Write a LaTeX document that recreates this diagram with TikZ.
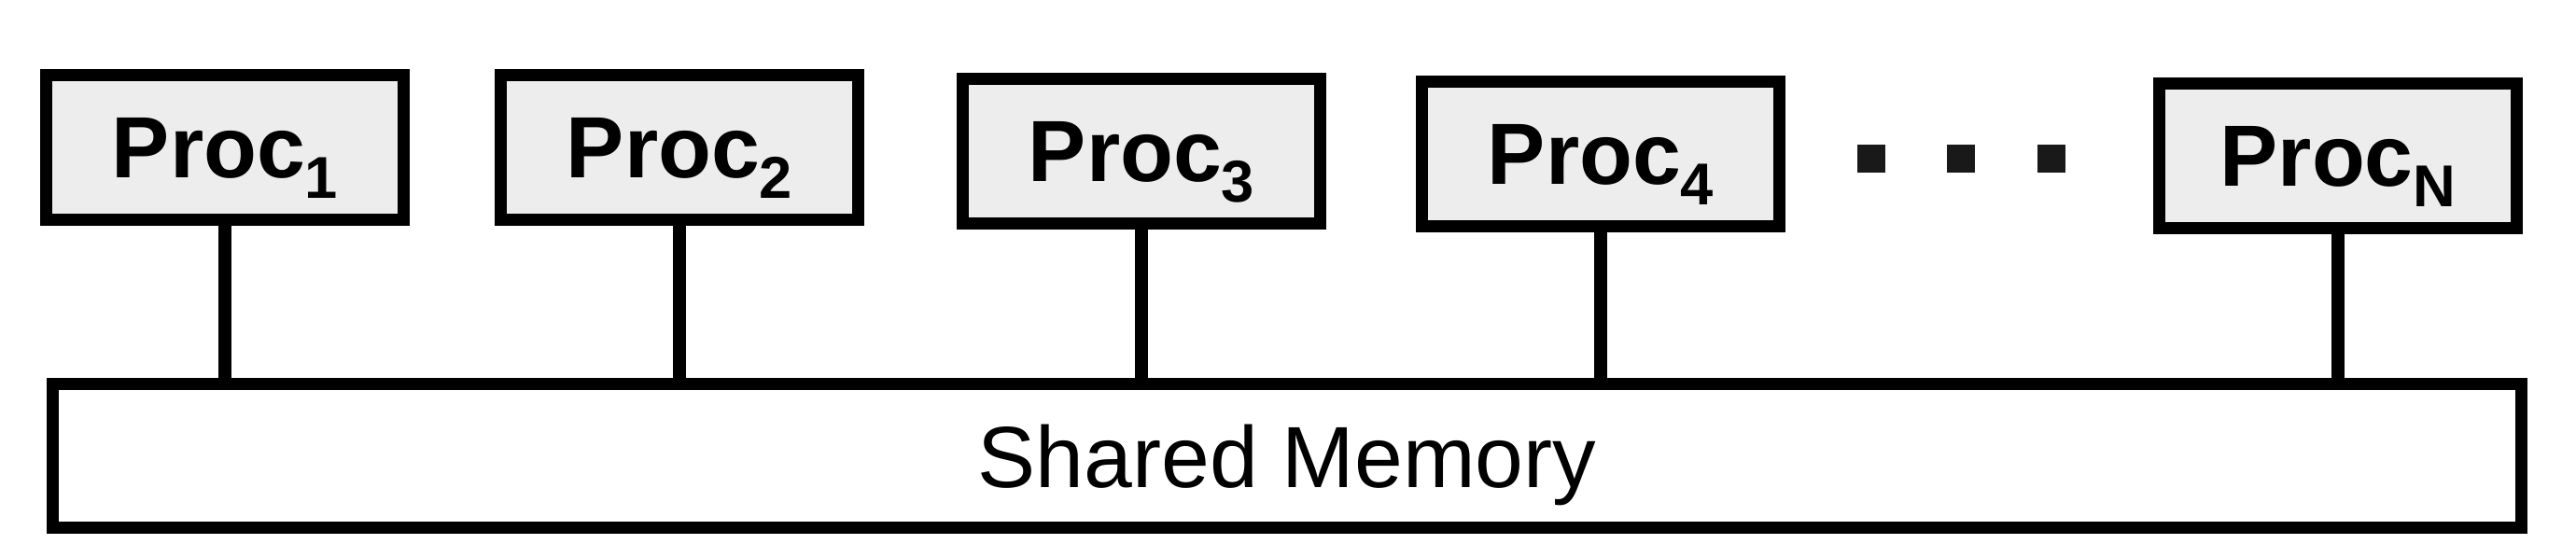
\documentclass[tikz,border=0pt]{standalone}
\usepackage{fontspec}
\setmainfont{Liberation Sans}
\usetikzlibrary{positioning}
\newcommand{\psub}[1]{\raisebox{-6.5pt}{\fontsize{18}{18}\selectfont #1}}

\begin{document}
\begin{tikzpicture}[
        proc/.style={draw, line width=3.7pt, fill=black!7, minimum width=3.83cm, minimum height=1.55cm,
            inner sep=0pt, text depth=0pt, font=\fontsize{26.5}{30}\selectfont\bfseries},
        mem/.style={draw, line width=3.7pt, fill=white, minimum width=26.45cm, minimum height=1.54cm,
            inner sep=0pt, text depth=0pt, font=\fontsize{26.5}{30}\selectfont},
        dotbox/.style={fill=black!90, minimum size=0.3cm, inner sep=0pt},
        bus/.style={line width=4.2pt}
    ]
                \useasboundingbox (0,0) rectangle (27.6,5.98);
                \node[mem] (mem) at (13.79,1.09){Shared Memory};
                \node[proc] (p1) at (2.41,4.40){Proc\psub{1}};
                \node[proc] (p2) at (7.28,4.40){Proc\psub{2}};
                \node[proc] (p3) at (12.23,4.36){Proc\psub{3}};
                \node[proc] (p4) at (17.15,4.33){Proc\psub{4}};
                \node[proc] (pN) at (25.05,4.31){Proc\psub{N}};
                \node[dotbox] (d1) at (20.05,4.28){};
                \node[dotbox, right=0.65cm of d1] (d2){};
                \node[dotbox, right=0.65cm of d2] (d3){};
                \foreach \p in {p1,p2,p3,p4,pN}
                    \draw[bus] (\p.south) -- (\p.south |- mem.north);
            \end{tikzpicture}
\end{document}
